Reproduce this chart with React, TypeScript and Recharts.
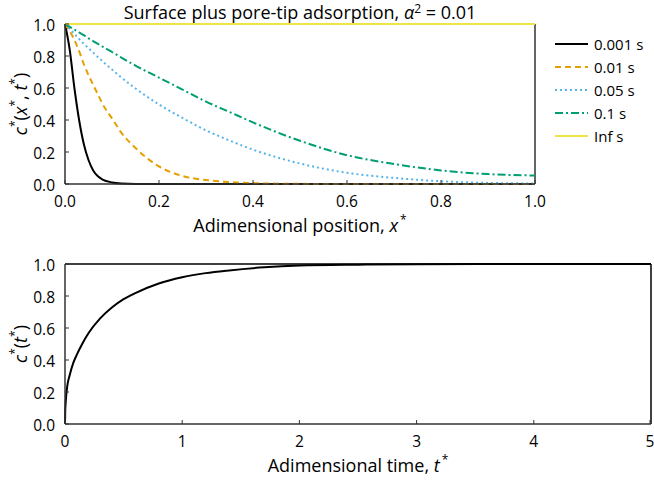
import { LineChart, Line, XAxis, YAxis, ReferenceLine } from 'recharts';

const FONT = '"Open Sans", "Noto Sans", sans-serif';
const AXIS = '#333333';

// position samples (x*) and the concentration profiles at each time
const positionX = [0, 0.01, 0.02, 0.03, 0.04, 0.05, 0.06, 0.07, 0.08, 0.1, 0.12, 0.15, 0.2, 0.25, 0.3, 0.35, 0.4, 0.5, 0.6, 0.7, 0.8, 0.9, 1.0];
const profile0001 = [1.0, 0.84, 0.6, 0.4, 0.25, 0.15, 0.085, 0.048, 0.028, 0.01, 0.003, 0, 0, 0, 0, 0, 0, 0, 0, 0, 0, 0, 0];
const profile001 = [1.0, 0.955, 0.9, 0.83, 0.75, 0.68, 0.62, 0.56, 0.5, 0.41, 0.32, 0.225, 0.11, 0.05, 0.025, 0.012, 0.005, 0.001, 0, 0, 0, 0, 0];
const profile005 = [1.0, 0.969, 0.938, 0.907, 0.877, 0.849, 0.821, 0.794, 0.767, 0.715, 0.665, 0.597, 0.497, 0.413, 0.335, 0.272, 0.215, 0.128, 0.07, 0.038, 0.017, 0.007, 0.003];
const profile01 = [1.0, 0.982, 0.965, 0.947, 0.93, 0.91, 0.893, 0.876, 0.858, 0.825, 0.79, 0.74, 0.665, 0.59, 0.515, 0.45, 0.385, 0.27, 0.18, 0.125, 0.085, 0.062, 0.053];
const profileInf = [1, 1, 1, 1, 1, 1, 1, 1, 1, 1, 1, 1, 1, 1, 1, 1, 1, 1, 1, 1, 1, 1, 1];

const seriesKeys = ['t0001', 't001', 't005', 't01', 'tInf'];
const seriesNames = ['0.001 s', '0.01 s', '0.05 s', '0.1 s', 'Inf s'];
const seriesColors = ['#000000', '#E69F00', '#56B4E9', '#009E73', '#F0E442'];
const seriesDash = ['', '6 4', '2 3', '8 3 2 3', ''];
const seriesValues = [profile0001, profile001, profile005, profile01, profileInf];

// uptake curve vs time
const timeX = [0, 0.002, 0.005, 0.01, 0.02, 0.04, 0.07, 0.1, 0.15, 0.2, 0.3, 0.4, 0.5, 0.6, 0.8, 1.0, 1.2, 1.4, 1.7, 2.0, 2.5, 3, 4, 5];
const uptake = [0, 0.08, 0.125, 0.175, 0.24, 0.305, 0.38, 0.432, 0.505, 0.567, 0.66, 0.728, 0.78, 0.818, 0.878, 0.917, 0.943, 0.96, 0.979, 0.99, 0.996, 0.999, 1.0, 1.0];

const positionTicks = [0, 0.2, 0.4, 0.6, 0.8, 1.0];
const timeTicks = [0, 1, 2, 3, 4, 5];
const concTicks = [0, 0.2, 0.4, 0.6, 0.8, 1.0];

const profileRows = positionX.map((x, i) => {
  const row: Record<string, number> = { x };
  seriesKeys.forEach((k, s) => (row[k] = seriesValues[s][i]));
  return row;
});
const uptakeRows = timeX.map((t, i) => ({ t, c: uptake[i] }));

const X_MARGIN = 12;
const Y_MARGIN = 10;
const TICK_FS = 15.5;
const LABEL_FS = 18;

function XTick(props: any) {
  const { x, y, payload, digits } = props;
  const axisY = y - X_MARGIN;
  return (
    <g>
      <line x1={x} x2={x} y1={axisY} y2={axisY - 4} stroke={AXIS} />
      <text x={x} y={y} dy="0.71em" textAnchor="middle" fontSize={TICK_FS} fill="#000" fontFamily={FONT}>
        {payload.value.toFixed(digits)}
      </text>
    </g>
  );
}

function YTick(props: any) {
  const { x, y, payload } = props;
  const axisX = x + Y_MARGIN;
  return (
    <g>
      <line x1={axisX} x2={axisX + 4} y1={y} y2={y} stroke={AXIS} />
      <text x={x} y={y} dy="0.45em" textAnchor="end" fontSize={TICK_FS} fill="#000" fontFamily={FONT}>
        {payload.value.toFixed(1)}
      </text>
    </g>
  );
}

function XTitle(props: any) {
  const { viewBox, text, sym } = props;
  return (
    <text x={viewBox.x + viewBox.width / 2} y={viewBox.y + 48} textAnchor="middle" fontSize={LABEL_FS} fontFamily={FONT} fill="#000">
      {text}
      <tspan fontStyle="italic">{sym}</tspan>
      <tspan dx={2} dy={-8} fontSize={12}>*</tspan>
    </text>
  );
}

function YTitle(props: any) {
  const { viewBox, both } = props;
  const cx = 27;
  const cy = viewBox.y + viewBox.height / 2;
  return (
    <text x={cx} y={cy} transform={`rotate(-90 ${cx} ${cy})`} textAnchor="middle" fontSize={LABEL_FS} fontFamily={FONT} fill="#000">
      <tspan fontStyle="italic">c</tspan>
      <tspan dy={-8} fontSize={12}>*</tspan>
      <tspan dy={8}>(</tspan>
      {both ? (
        <>
          <tspan fontStyle="italic">x</tspan>
          <tspan dy={-8} fontSize={12}>*</tspan>
          <tspan dy={8}>, </tspan>
        </>
      ) : null}
      <tspan fontStyle="italic">t</tspan>
      <tspan dy={-8} fontSize={12}>*</tspan>
      <tspan dy={8}>)</tspan>
    </text>
  );
}

function Title(props: any) {
  const { viewBox } = props;
  const cx = viewBox && viewBox.width ? viewBox.x + viewBox.width / 2 : 300;
  return (
    <text x={cx} y={19} textAnchor="middle" fontSize={LABEL_FS} fontFamily={FONT} fill="#000">
      Surface plus pore-tip adsorption,{' '}
      <tspan fontStyle="italic">α</tspan>
      <tspan dy={-6} fontSize={12}>2</tspan>
      <tspan dy={6}> = 0.01</tspan>
    </text>
  );
}

function ProfileLegend() {
  return (
    <div style={{ position: 'absolute', left: 553, top: 32, fontFamily: FONT, fontSize: 15 }}>
      {seriesNames.map((name, i) => (
        <div key={name} style={{ display: 'flex', alignItems: 'center', height: 23.2 }}>
          <svg width={38} height={10}>
            <line x1={2} x2={35} y1={5} y2={5} stroke={seriesColors[i]} strokeWidth={2} strokeDasharray={seriesDash[i]} />
          </svg>
          <span style={{ marginLeft: 3 }}>{name}</span>
        </div>
      ))}
    </div>
  );
}

export default function App() {
  return (
    <div style={{ position: 'absolute', left: 0, top: 0, width: 654, height: 484, background: '#fff', overflow: 'hidden' }}>
      <LineChart width={654} height={240} data={profileRows} margin={{ top: 24, right: 119, bottom: 6, left: 15 }}>
        <XAxis
          dataKey="x"
          type="number"
          domain={[0, 1]}
          ticks={positionTicks}
          height={50}
          tickSize={0}
          tickMargin={X_MARGIN}
          tickLine={false}
          axisLine={{ stroke: AXIS, strokeWidth: 1.5 }}
          tick={<XTick digits={1} />}
          label={<XTitle text="Adimensional position, " sym="x" />}
        />
        <YAxis
          type="number"
          domain={[0, 1]}
          ticks={concTicks}
          width={50}
          tickSize={0}
          tickMargin={Y_MARGIN}
          tickLine={false}
          axisLine={{ stroke: AXIS, strokeWidth: 1.5 }}
          tick={<YTick />}
          label={<YTitle both />}
        />
        <ReferenceLine y={1} stroke={AXIS} strokeWidth={1.5} label={<Title />} />
        <ReferenceLine x={1} stroke={AXIS} strokeWidth={1.5} />
        {seriesKeys.map((k, i) => (
          <Line
            key={k}
            dataKey={k}
            type="monotone"
            stroke={seriesColors[i]}
            strokeWidth={2}
            strokeDasharray={seriesDash[i] || undefined}
            dot={false}
            isAnimationActive={false}
          />
        ))}
      </LineChart>
      <ProfileLegend />
      <LineChart width={654} height={244} data={uptakeRows} margin={{ top: 24, right: 3, bottom: 6, left: 15 }}>
        <XAxis
          dataKey="t"
          type="number"
          domain={[0, 5]}
          ticks={timeTicks}
          height={54}
          tickSize={0}
          tickMargin={X_MARGIN}
          tickLine={false}
          axisLine={{ stroke: AXIS, strokeWidth: 1.5 }}
          tick={<XTick digits={0} />}
          label={<XTitle text="Adimensional time, " sym="t" />}
        />
        <YAxis
          type="number"
          domain={[0, 1]}
          ticks={concTicks}
          width={50}
          tickSize={0}
          tickMargin={Y_MARGIN}
          tickLine={false}
          axisLine={{ stroke: AXIS, strokeWidth: 1.5 }}
          tick={<YTick />}
          label={<YTitle both={false} />}
        />
        <ReferenceLine y={1} stroke="#000" strokeWidth={1.5} />
        <ReferenceLine x={5} stroke="#000" strokeWidth={1.5} />
        <Line dataKey="c" type="monotone" stroke="#000" strokeWidth={2} dot={false} isAnimationActive={false} />
      </LineChart>
    </div>
  );
}
